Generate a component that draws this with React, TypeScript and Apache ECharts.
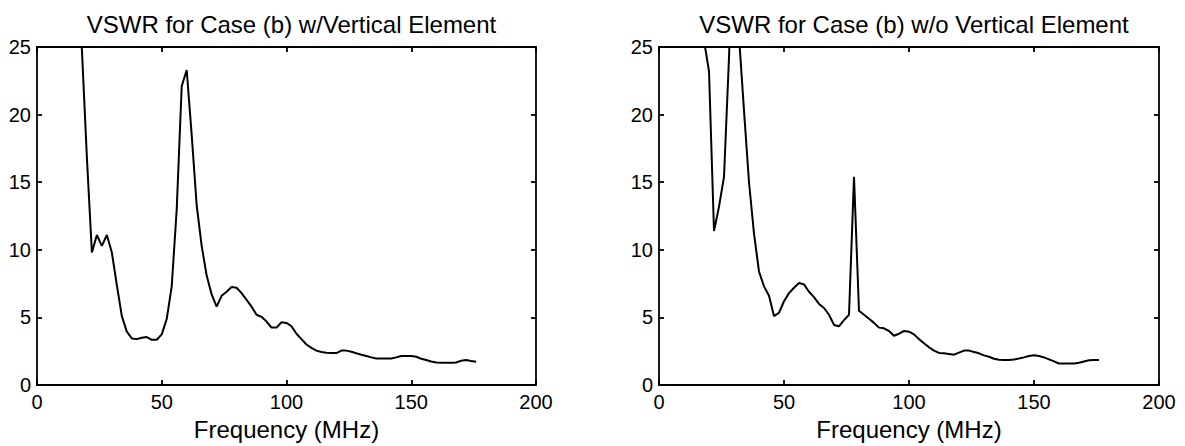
import React, { useEffect, useRef } from "react";
import * as echarts from "echarts";

const titles = ["VSWR for Case (b) w/Vertical Element", "VSWR for Case (b) w/o Vertical Element"];
const xAxisName = "Frequency (MHz)";
const xTicks = [0, 50, 100, 150, 200];
const yTicks = [0, 5, 10, 15, 20, 25];

const freqWith = [16, 18, 20, 22, 24, 26, 28, 30, 32, 34, 36, 38, 40, 42, 44, 46, 48, 50, 52, 54, 56, 58, 60, 62, 64, 66, 68, 70, 72, 74, 76, 78, 80, 82, 84, 86, 88, 90, 92, 94, 96, 98, 100, 102, 104, 106, 108, 110, 112, 114, 116, 118, 120, 122, 124, 126, 128, 130, 132, 134, 136, 138, 140, 142, 144, 146, 148, 150, 152, 154, 156, 158, 160, 162, 164, 166, 168, 170, 172, 174, 176];
const vswrWith = [33, 24.8, 16.8, 9.8, 11.1, 10.3, 11.1, 9.8, 7.4, 5.1, 3.95, 3.45, 3.4, 3.5, 3.55, 3.35, 3.35, 3.75, 4.9, 7.3, 13.0, 22.1, 23.3, 18.5, 13.3, 10.3, 8.1, 6.7, 5.8, 6.6, 6.9, 7.25, 7.2, 6.8, 6.3, 5.8, 5.2, 5.05, 4.7, 4.25, 4.25, 4.65, 4.6, 4.35, 3.8, 3.4, 3.0, 2.75, 2.55, 2.45, 2.4, 2.37, 2.37, 2.55, 2.55, 2.47, 2.35, 2.25, 2.15, 2.05, 1.97, 1.97, 1.97, 1.97, 2.05, 2.15, 2.16, 2.16, 2.1, 1.95, 1.85, 1.75, 1.67, 1.65, 1.65, 1.65, 1.67, 1.8, 1.85, 1.78, 1.73];

const freqWithout = [16, 18, 20, 22, 24, 26, 28, 30, 32, 34, 36, 38, 40, 42, 44, 46, 48, 50, 52, 54, 56, 58, 60, 62, 64, 66, 68, 70, 72, 74, 76, 78, 80, 82, 84, 86, 88, 90, 92, 94, 96, 98, 100, 102, 104, 106, 108, 110, 112, 114, 116, 118, 120, 122, 124, 126, 128, 130, 132, 134, 136, 138, 140, 142, 144, 146, 148, 150, 152, 154, 156, 158, 160, 162, 164, 166, 168, 170, 172, 174, 176];
const vswrWithout = [30, 25.5, 23.2, 11.4, 13.2, 15.4, 24.2, 35, 25.8, 20.3, 15, 11.2, 8.4, 7.3, 6.6, 5.1, 5.35, 6.2, 6.8, 7.2, 7.55, 7.45, 6.9, 6.5, 6.0, 5.7, 5.2, 4.45, 4.35, 4.8, 5.2, 15.4, 5.5, 5.2, 4.9, 4.6, 4.25, 4.2, 4.0, 3.65, 3.8, 4.0, 3.95, 3.75, 3.4, 3.1, 2.8, 2.55, 2.38, 2.35, 2.3, 2.25, 2.4, 2.55, 2.55, 2.45, 2.35, 2.2, 2.1, 1.95, 1.87, 1.85, 1.85, 1.9, 1.97, 2.05, 2.15, 2.2, 2.15, 2.05, 1.9, 1.75, 1.6, 1.6, 1.6, 1.6, 1.65, 1.75, 1.83, 1.85, 1.85];

const FONT = "'Liberation Sans', Arial, Helvetica, sans-serif";

export default function App() {
  const ref = useRef<HTMLDivElement>(null);
  useEffect(() => {
    if (!ref.current) return;
    const chart = echarts.init(ref.current, undefined, { renderer: "svg" });
    const grids = [
      { left: 37, top: 47, width: 499, height: 347 },
      { left: 659, top: 47, width: 500, height: 347 },
    ];
    const lineStyle = { color: "#000", width: 1.8 };
    const xAxes: any[] = [];
    const yAxes: any[] = [];
    grids.forEach((_, i) => {
      xAxes.push({
        type: "value", gridIndex: i, min: xTicks[0], max: xTicks[xTicks.length - 1], interval: 50,
        position: "bottom",
        name: xAxisName, nameLocation: "middle", nameGap: 30,
        nameTextStyle: { color: "#000", fontSize: 24, fontFamily: FONT },
        axisLine: { show: true, onZero: false, lineStyle },
        axisTick: { show: true, inside: true, length: 5, lineStyle },
        axisLabel: { color: "#000", fontSize: 20, fontFamily: FONT, margin: 7 },
        splitLine: { show: false },
      });
      xAxes.push({
        type: "value", gridIndex: i, min: xTicks[0], max: xTicks[xTicks.length - 1], interval: 50,
        position: "top",
        axisLine: { show: true, onZero: false, lineStyle },
        axisTick: { show: true, inside: true, length: 5, lineStyle },
        axisLabel: { show: false },
        splitLine: { show: false },
      });
      yAxes.push({
        type: "value", gridIndex: i, min: yTicks[0], max: yTicks[yTicks.length - 1], interval: 5,
        position: "left",
        axisLine: { show: true, onZero: false, lineStyle },
        axisTick: { show: true, inside: true, length: 5, lineStyle },
        axisLabel: { color: "#000", fontSize: 20, fontFamily: FONT, margin: 6 },
        splitLine: { show: false },
      });
      yAxes.push({
        type: "value", gridIndex: i, min: yTicks[0], max: yTicks[yTicks.length - 1], interval: 5,
        position: "right",
        axisLine: { show: true, onZero: false, lineStyle },
        axisTick: { show: true, inside: true, length: 5, lineStyle },
        axisLabel: { show: false },
        splitLine: { show: false },
      });
    });
    const option: any = {
      animation: false,
      backgroundColor: "#fff",
      title: titles.map((t, i) => ({
        text: t,
        left: grids[i].left + grids[i].width / 2,
        top: 7,
        textAlign: "center",
        textStyle: { color: "#000", fontSize: 24, fontWeight: "normal", fontFamily: FONT },
      })),
      grid: grids,
      xAxis: xAxes,
      yAxis: yAxes,
      series: [
        {
          type: "line", xAxisIndex: 0, yAxisIndex: 0, showSymbol: false, clip: true,
          data: freqWith.map((f, k) => [f, vswrWith[k]]),
          lineStyle: { color: "#000", width: 2 },
        },
        {
          type: "line", xAxisIndex: 2, yAxisIndex: 2, showSymbol: false, clip: true,
          data: freqWithout.map((f, k) => [f, vswrWithout[k]]),
          lineStyle: { color: "#000", width: 2 },
        },
      ],
    };
    chart.setOption(option);
    return () => chart.dispose();
  }, []);
  return (
    <div
      ref={ref}
      style={{ position: "fixed", left: 0, top: 0, width: 1185, height: 446, background: "#fff" }}
    />
  );
}
